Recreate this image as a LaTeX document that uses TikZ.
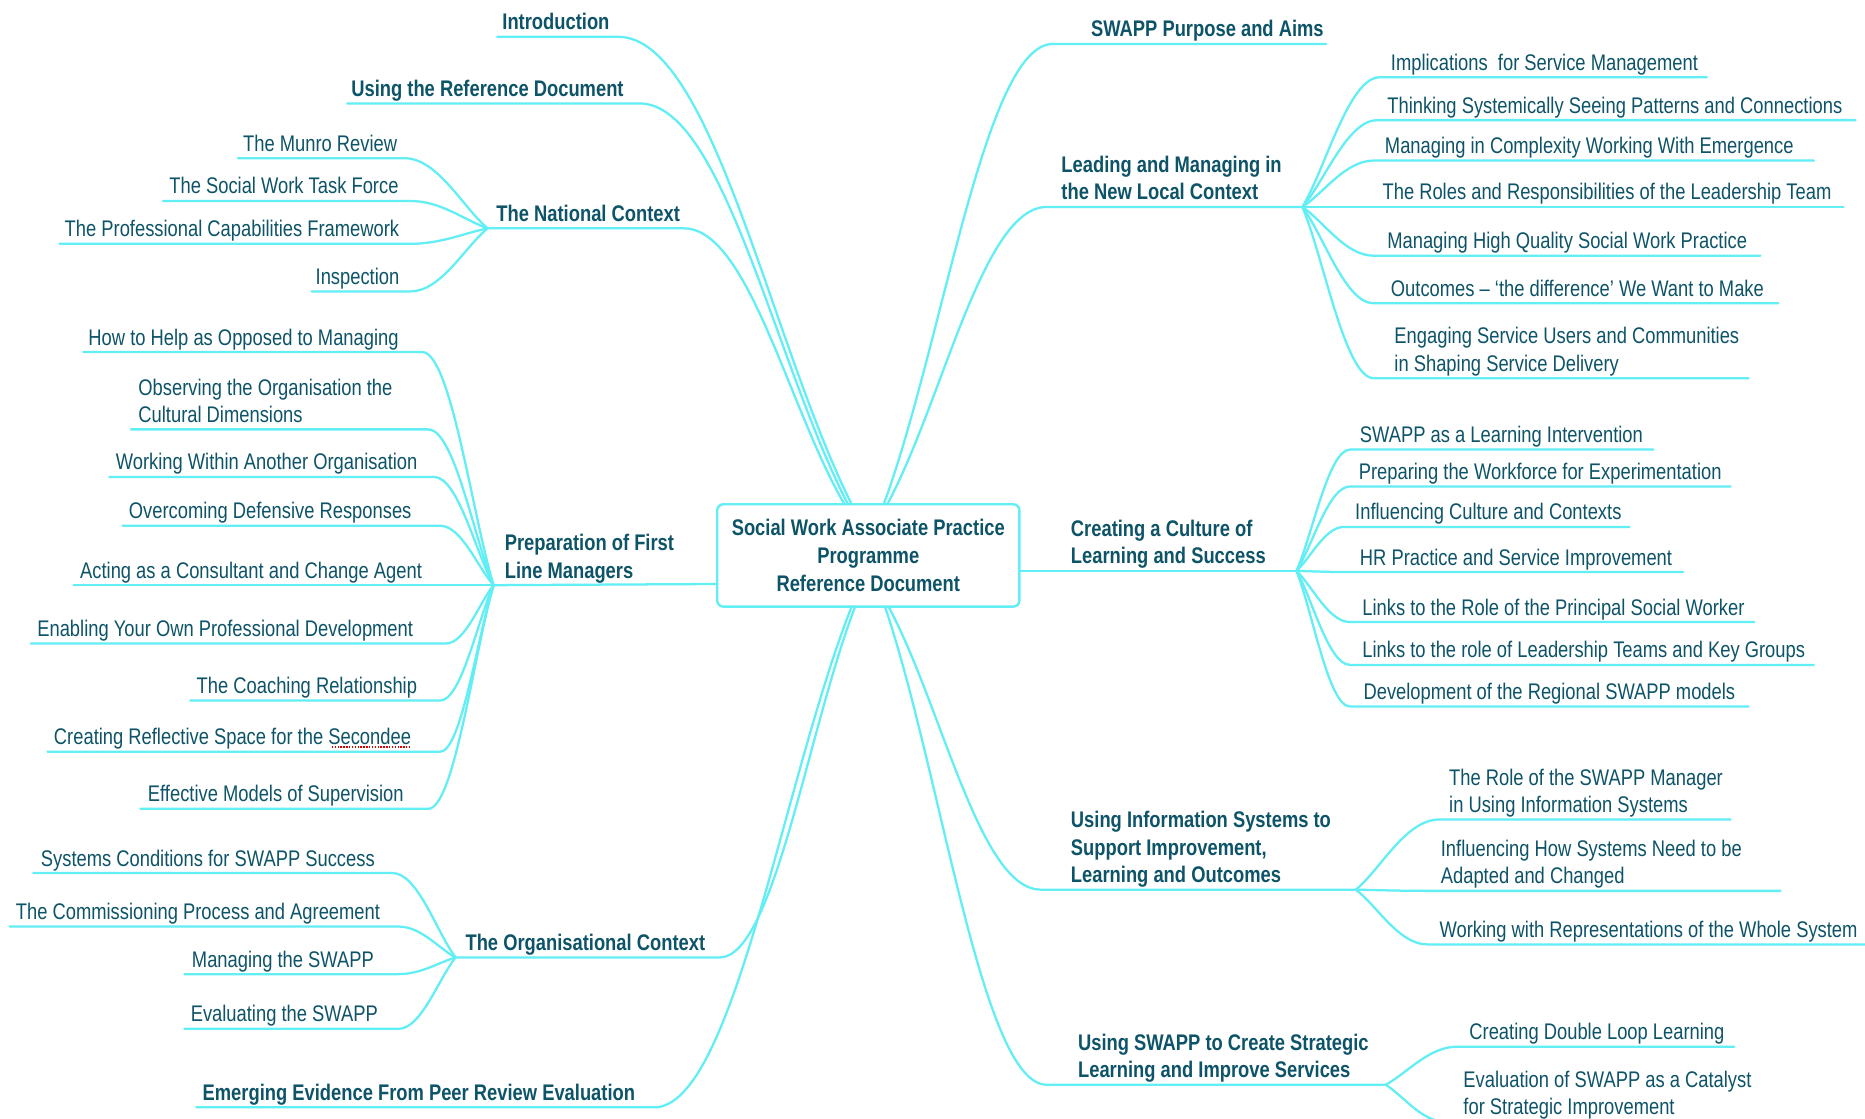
\documentclass[tikz,border=0pt]{standalone}
\usepackage{fontspec}
\setmainfont{Liberation Sans}[FakeStretch=0.812]
\usetikzlibrary{calc}
\definecolor{txt}{RGB}{14,84,104}
\definecolor{ln}{RGB}{98,238,245}
\begin{document}
\begin{tikzpicture}[x=0.5pt,y=-0.5pt,
  lbl/.style={anchor=south west, inner sep=0pt, yshift=-0.7pt, align=left, text=txt, font=\fontsize{9.5}{11.5}\selectfont},
  ttl/.style={lbl, font=\bfseries\fontsize{9.5}{11.5}\selectfont},
  conn/.style={draw=ln, line width=0.95pt, line cap=round}]
\fill[white] (0,0) rectangle (1568,940);
\useasboundingbox (0,0) rectangle (1568,940);
\begin{scope}
\clip (0,0) rectangle (1568,940);
% ---------- centre ----------
\node[draw=ln, line width=1pt, rounded corners=2.5pt, minimum width=127pt, minimum height=43pt,
      inner sep=0pt, align=center, text=txt, font=\bfseries\fontsize{9.5}{11.75}\selectfont] (c) at (730,467)
  {Social Work Associate Practice\\Programme\\Reference Document};
\coordinate (cA) at (716,424);
\coordinate (cB) at (713,424);
\coordinate (cC) at (710,424);
\coordinate (cR1) at (743,424);
\coordinate (cR2) at (746,424);
\coordinate (cW) at (603,491);
\coordinate (cE) at (857,480);
\coordinate (cD1) at (719,510);
\coordinate (cD2) at (716,510);
\coordinate (cS1) at (747,510);
\coordinate (cS2) at (744,510);

% ---------- left main ----------
\node[ttl] (intro) at (422,31) {Introduction\strut};
\coordinate (intro-a) at (418,31); \coordinate (intro-b) at (520,31);
\node[ttl] (useref) at (295,87) {Using the Reference Document\strut};
\coordinate (useref-a) at (292,87); \coordinate (useref-b) at (538,87);
\node[ttl] (nat) at (417,192) {The National Context\strut};
\coordinate (natH) at (410,192); \coordinate (nat-b) at (575,192);
\node[ttl] (prep) at (424,492) {Preparation of First\\Line Managers\strut};
\coordinate (prepH) at (415,492);
\node[ttl] (org) at (391,805) {The Organisational Context\strut};
\coordinate (orgH) at (383,805); \coordinate (org-b) at (605,805);
\node[ttl] (emerg) at (170,931) {Emerging Evidence From Peer Review Evaluation\strut};
\coordinate (emerg-a) at (165,931); \coordinate (emerg-b) at (550,931);

% national context children
\node[lbl] (munro) at (204,133) {The Munro Review\strut};
\coordinate (munro-a) at (200,133); \coordinate (munro-b) at (340,133);
\node[lbl] (task) at (142,169) {The Social Work Task Force\strut};
\coordinate (task-a) at (137,169); \coordinate (task-b) at (345,169);
\node[lbl] (pcf) at (54,205) {The Professional Capabilities Framework\strut};
\coordinate (pcf-a) at (50,205); \coordinate (pcf-b) at (345,205);
\node[lbl] (insp) at (265,245) {Inspection\strut};
\coordinate (insp-a) at (262,245); \coordinate (insp-b) at (345,245);

% preparation children
\node[lbl] (help) at (74,296) {How to Help as Opposed to Managing\strut};
\coordinate (help-a) at (70,296); \coordinate (help-b) at (355,296);
\node[lbl] (observ) at (116,361) {Observing the Organisation the\\Cultural Dimensions\strut};
\coordinate (observ-a) at (110,361); \coordinate (observ-b) at (360,361);
\node[lbl] (within) at (97,401) {Working Within Another Organisation\strut};
\coordinate (within-a) at (92,401); \coordinate (within-b) at (365,401);
\node[lbl] (overc) at (108,442) {Overcoming Defensive Responses\strut};
\coordinate (overc-a) at (103,442); \coordinate (overc-b) at (370,442);
\node[lbl] (acting) at (67,492) {Acting as a Consultant and Change Agent\strut};
\coordinate (acting-a) at (62,492); \coordinate (acting-b) at (375,492);
\node[lbl] (enabl) at (31,541) {Enabling Your Own Professional Development\strut};
\coordinate (enabl-a) at (26,541); \coordinate (enabl-b) at (375,541);
\node[lbl] (coach) at (165,589) {The Coaching Relationship\strut};
\coordinate (coach-a) at (160,589); \coordinate (coach-b) at (370,589);
\node[lbl] (refl) at (45,632) {Creating Reflective Space for the Secondee\strut};
\coordinate (refl-a) at (40,632); \coordinate (refl-b) at (370,632);
\node[lbl] (effect) at (124,680) {Effective Models of Supervision\strut};
\coordinate (effect-a) at (118,680); \coordinate (effect-b) at (360,680);
% spell-check mark under "Secondee"
\coordinate (sq-a) at (279,628); \coordinate (sq-b) at (346,628);
\draw[red!85!black, line width=0.6pt, dash pattern=on 0.6pt off 0.6pt] (sq-a) -- (sq-b);

% organisational context children
\node[lbl] (syscond) at (34,734) {Systems Conditions for SWAPP Success\strut};
\coordinate (syscond-a) at (28,734); \coordinate (syscond-b) at (330,734);
\node[lbl] (commis) at (13,779) {The Commissioning Process and Agreement\strut};
\coordinate (commis-a) at (8,779); \coordinate (commis-b) at (335,779);
\node[lbl] (manag) at (161,819) {Managing the SWAPP\strut};
\coordinate (manag-a) at (155,819); \coordinate (manag-b) at (335,819);
\node[lbl] (evalsw) at (160,865) {Evaluating the SWAPP\strut};
\coordinate (evalsw-a) at (155,865); \coordinate (evalsw-b) at (335,865);

% ---------- right main ----------
\node[ttl] (purp) at (917,37) {SWAPP Purpose and Aims\strut};
\coordinate (purp-a) at (885,37); \coordinate (purp-b) at (1115,37);
\node[ttl] (lead) at (892,174) {Leading and Managing in\\the New Local Context\strut};
\coordinate (lead-a) at (880,174); \coordinate (leadH) at (1095,174);
\node[ttl] (cult) at (900,480) {Creating a Culture of\\Learning and Success\strut};
\coordinate (cultH) at (1090,480);
\node[ttl] (info) at (900,748) {Using Information Systems to\\Support Improvement,\\Learning and Outcomes\strut};
\coordinate (info-a) at (875,748); \coordinate (infoH) at (1140,748);
\node[ttl] (strat) at (906,912) {Using SWAPP to Create Strategic\\Learning and Improve Services\strut};
\coordinate (strat-a) at (880,912); \coordinate (stratH) at (1165,912);

% leading children
\node[lbl] (impl) at (1169,65) {Implications\ \ for Service Management\strut};
\coordinate (impl-a) at (1160,65); \coordinate (impl-b) at (1435,65);
\node[lbl] (think) at (1166,101) {Thinking Systemically Seeing Patterns and Connections\strut};
\coordinate (think-a) at (1158,101); \coordinate (think-b) at (1560,101);
\node[lbl] (cmplx) at (1164,135) {Managing in Complexity Working With Emergence\strut};
\coordinate (cmplx-a) at (1155,135); \coordinate (cmplx-b) at (1525,135);
\node[lbl] (roles) at (1162,174) {The Roles and Responsibilities of the Leadership Team\strut};
\coordinate (roles-a) at (1155,174); \coordinate (roles-b) at (1550,174);
\node[lbl] (mhq) at (1166,215) {Managing High Quality Social Work Practice\strut};
\coordinate (mhq-a) at (1155,215); \coordinate (mhq-b) at (1480,215);
\node[lbl] (outc) at (1169,255) {Outcomes -- `the difference' We Want to Make\strut};
\coordinate (outc-a) at (1155,255); \coordinate (outc-b) at (1495,255);
\node[lbl] (engag) at (1172,318) {Engaging Service Users and Communities\\in Shaping Service Delivery\strut};
\coordinate (engag-a) at (1155,318); \coordinate (engag-b) at (1470,318);

% culture children
\node[lbl] (lint) at (1143,378) {SWAPP as a Learning Intervention\strut};
\coordinate (lint-a) at (1135,378); \coordinate (lint-b) at (1390,378);
\node[lbl] (prepwf) at (1142,409) {Preparing the Workforce for Experimentation\strut};
\coordinate (prepwf-a) at (1135,409); \coordinate (prepwf-b) at (1455,409);
\node[lbl] (inflcc) at (1139,443) {Influencing Culture and Contexts\strut};
\coordinate (inflcc-a) at (1130,443); \coordinate (inflcc-b) at (1370,443);
\node[lbl] (hrp) at (1143,481) {HR Practice and Service Improvement\strut};
\coordinate (hrp-a) at (1135,481); \coordinate (hrp-b) at (1415,481);
\node[lbl] (psw) at (1145,523) {Links to the Role of the Principal Social Worker\strut};
\coordinate (psw-a) at (1135,523); \coordinate (psw-b) at (1475,523);
\node[lbl] (ltkg) at (1145,559) {Links to the role of Leadership Teams and Key Groups\strut};
\coordinate (ltkg-a) at (1135,559); \coordinate (ltkg-b) at (1525,559);
\node[lbl] (regm) at (1146,594) {Development of the Regional SWAPP models\strut};
\coordinate (regm-a) at (1135,594); \coordinate (regm-b) at (1470,594);

% information systems children
\node[lbl] (rolem) at (1218,689) {The Role of the SWAPP Manager\\in Using Information Systems\strut};
\coordinate (rolem-a) at (1210,689); \coordinate (rolem-b) at (1455,689);
\node[lbl] (inflh) at (1211,749) {Influencing How Systems Need to be\\Adapted and Changed\strut};
\coordinate (inflh-a) at (1200,749); \coordinate (inflh-b) at (1497,749);
\node[lbl] (reprs) at (1210,794) {Working with Representations of the Whole System\strut};
\coordinate (reprs-a) at (1200,794); \coordinate (reprs-b) at (1570,794);

% strategic children
\node[lbl] (dbl) at (1235,880) {Creating Double Loop Learning\strut};
\coordinate (dbl-a) at (1225,880); \coordinate (dbl-b) at (1458,880);
\node[lbl] (evcat) at (1230,943) {Evaluation of SWAPP as a Catalyst\\for Strategic Improvement\strut};
\coordinate (evcat-a) at (1215,943); \coordinate (evcat-b) at (1480,943);

% ---------- connectors ----------
% left main branches (underline, then curve into the centre box)
\foreach \n/\h in {intro/cA, useref/cB, emerg/cD2}
  \draw[conn] (\n-a) -- (\n-b) .. controls ($(\n-b)!0.4!(\n-b -| \h)$) and ($(\h)!0.35!(\n-b)$) .. (\h);
\draw[conn] (natH) -- (nat-b) .. controls ($(nat-b)!0.4!(nat-b -| cC)$) and ($(cC)!0.35!(nat-b)$) .. (cC);
\draw[conn] (orgH) -- (org-b) .. controls ($(org-b)!0.4!(org-b -| cD1)$) and ($(cD1)!0.35!(org-b)$) .. (cD1);
\draw[conn] (prepH) -- (cW);
% right main branches
\draw[conn] (cR1) .. controls ($(cR1)!0.35!(purp-a)$) and ($(purp-a)!0.4!(purp-a -| cR1)$) .. (purp-a) -- (purp-b);
\draw[conn] (cR2) .. controls ($(cR2)!0.35!(lead-a)$) and ($(lead-a)!0.4!(lead-a -| cR2)$) .. (lead-a) -- (leadH);
\draw[conn] (cE) -- (cultH);
\draw[conn] (cS1) .. controls ($(cS1)!0.35!(info-a)$) and ($(info-a)!0.4!(info-a -| cS1)$) .. (info-a) -- (infoH);
\draw[conn] (cS2) .. controls ($(cS2)!0.35!(strat-a)$) and ($(strat-a)!0.4!(strat-a -| cS2)$) .. (strat-a) -- (stratH);
% left children
\foreach \n/\h in {munro/natH, task/natH, pcf/natH, insp/natH,
                   help/prepH, observ/prepH, within/prepH, overc/prepH, acting/prepH,
                   enabl/prepH, coach/prepH, refl/prepH, effect/prepH,
                   syscond/orgH, commis/orgH, manag/orgH, evalsw/orgH}
  \draw[conn] (\n-a) -- (\n-b) .. controls ($(\n-b)!0.4!(\n-b -| \h)$) and ($(\h)!0.3!(\n-b)$) .. (\h);
% right children
\foreach \n/\h in {impl/leadH, think/leadH, cmplx/leadH, roles/leadH, mhq/leadH, outc/leadH, engag/leadH,
                   lint/cultH, prepwf/cultH, inflcc/cultH, hrp/cultH, psw/cultH, ltkg/cultH, regm/cultH,
                   rolem/infoH, inflh/infoH, reprs/infoH,
                   dbl/stratH, evcat/stratH}
  \draw[conn] (\h) .. controls ($(\h)!0.3!(\n-a)$) and ($(\n-a)!0.4!(\n-a -| \h)$) .. (\n-a) -- (\n-b);
\end{scope}
\end{tikzpicture}
\end{document}
